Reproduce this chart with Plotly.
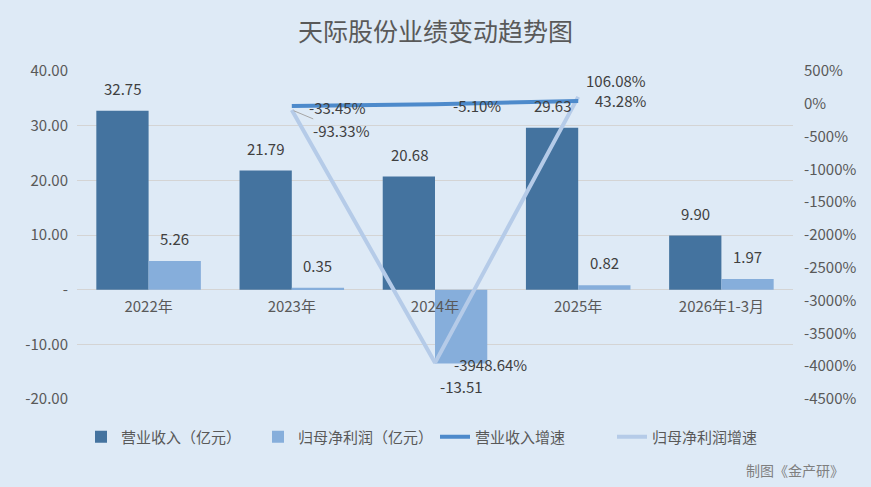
import plotly.graph_objects as go

categories = ["2022年", "2023年", "2024年", "2025年", "2026年1-3月"]
revenue = [32.75, 21.79, 20.68, 29.63, 9.90]
net_profit = [5.26, 0.35, -13.51, 0.82, 1.97]

growth_years = ["2023年", "2024年", "2025年"]
revenue_growth = [-33.45, -5.10, 43.28]
profit_growth = [-93.33, -3948.64, 106.08]

left_ticks = [-20, -10, 0, 10, 20, 30, 40]
right_ticks = list(range(-4500, 501, 500))

dark_blue = "#44739F"
light_blue = "#86AEDB"
line_blue = "#4D8ACB"
line_light = "#B5CBE8"
grey_text = "#595959"
label_text = "#404040"
bg = "#DEEAF6"
font_name = "Noto Sans CJK SC"

fig = go.Figure()

fig.add_trace(go.Bar(
    x=categories, y=revenue,
    name="营业收入（亿元）",
    marker=dict(color=dark_blue, line=dict(width=0)),
    legendrank=1
))
fig.add_trace(go.Bar(
    x=categories, y=net_profit,
    name="归母净利润（亿元）",
    marker=dict(color=light_blue, line=dict(width=0)),
    legendrank=2
))
fig.add_trace(go.Scatter(
    x=growth_years, y=profit_growth,
    name="归母净利润增速",
    mode="lines",
    line=dict(color=line_light, width=4),
    yaxis="y2",
    legendrank=4
))
fig.add_trace(go.Scatter(
    x=growth_years, y=revenue_growth,
    name="营业收入增速",
    mode="lines",
    line=dict(color=line_blue, width=4),
    yaxis="y2",
    legendrank=3
))

# bar value labels
for series, shift in ((revenue, -26), (net_profit, 26)):
    for cat, v in zip(categories, series):
        fig.add_annotation(
            x=cat, y=v, xref="x", yref="y",
            text="%.2f" % v, showarrow=False,
            xshift=shift, yshift=10 if v >= 0 else -10,
            yanchor="bottom" if v >= 0 else "top",
            font=dict(size=15, color=label_text)
        )

# growth labels
rev_shift = [(15, -2), (16, -1), (15, 0)]
for cat, v, (dx, dy) in zip(growth_years, revenue_growth, rev_shift):
    fig.add_annotation(
        x=cat, y=v, xref="x", yref="y2",
        text="%.2f%%" % v, showarrow=False,
        xanchor="left", yanchor="middle", xshift=dx, yshift=dy,
        font=dict(size=15, color=label_text)
    )

prof_shift = [None, (17, -2), (6, 16)]
for cat, v, sh in zip(growth_years, profit_growth, prof_shift):
    if sh is None:
        fig.add_annotation(
            x=cat, y=v, xref="x", yref="y2",
            text="%.2f%%" % v, showarrow=True,
            arrowhead=0, arrowwidth=1, arrowcolor="#A6A6A6",
            ax=50, ay=21, standoff=2,
            font=dict(size=15, color=label_text)
        )
    else:
        fig.add_annotation(
            x=cat, y=v, xref="x", yref="y2",
            text="%.2f%%" % v, showarrow=False,
            xanchor="left", yanchor="middle", xshift=sh[0], yshift=sh[1],
            font=dict(size=15, color=label_text)
        )

fig.update_layout(
    width=871, height=487,
    margin=dict(l=77, r=78, t=71, b=88),
    paper_bgcolor=bg,
    plot_bgcolor=bg,
    font=dict(family=font_name, size=15, color=grey_text),
    title=dict(text="天际股份业绩变动趋势图", x=0.5, xanchor="center",
               y=1 - 32 / 487, yanchor="middle",
               font=dict(size=25, color=grey_text)),
    barmode="group",
    bargap=0.27,
    bargroupgap=0,
    xaxis=dict(
        type="category",
        categoryorder="array", categoryarray=categories,
        anchor="free", position=1/3,
        showline=False, showgrid=False, ticks="",
        ticklabelstandoff=6,
        tickfont=dict(size=15, color=grey_text)
    ),
    yaxis=dict(
        range=[-20, 40], autorange=False,
        tickvals=left_ticks,
        ticktext=["-" if v == 0 else "%.2f" % v for v in left_ticks],
        showgrid=True, gridcolor="#D4D4D4", gridwidth=1,
        zeroline=False, ticks="",
        ticklabelstandoff=8,
        tickfont=dict(size=15, color=grey_text)
    ),
    yaxis2=dict(
        range=[-4500, 500], autorange=False,
        overlaying="y", side="right",
        tickvals=right_ticks,
        ticktext=["%d%%" % v for v in right_ticks],
        showgrid=False, zeroline=False, ticks="",
        ticklabelstandoff=10,
        tickfont=dict(size=15, color=grey_text)
    ),
    legend=dict(
        orientation="h",
        x=0.5, xanchor="center",
        y=-(437 - 399) / 328, yanchor="middle",
        entrywidth=132, entrywidthmode="pixels",
        font=dict(size=15, color=grey_text),
        bgcolor="rgba(0,0,0,0)"
    ),
    showlegend=True
)

fig.add_annotation(
    text="制图《金产研》", xref="paper", yref="paper",
    x=(846 - 77) / 716, y=-(470 - 399) / 328,
    xanchor="right", yanchor="middle",
    showarrow=False, font=dict(size=14, color="#7F7F7F")
)

fig.write_html(
    "out.html",
    config={"displayModeBar": False},
    post_script="document.body.style.margin='0';document.body.style.background='%s';" % bg
)
